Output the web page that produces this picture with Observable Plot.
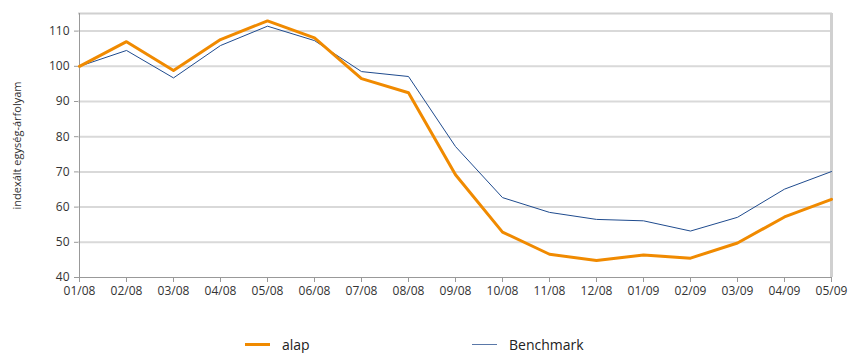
<!DOCTYPE html>
<html><head><meta charset="utf-8">
<script src="https://cdn.jsdelivr.net/npm/d3@7"></script>
<script src="https://cdn.jsdelivr.net/npm/@observablehq/plot@0.6"></script>
<style>
body{margin:0;background:#fff;font-family:"Open Sans",sans-serif;}
#legend{position:relative;height:33px;width:848px;font-size:14px;color:#222;}
.it{position:absolute;top:15px;display:flex;align-items:center;}
.sw{display:inline-block;width:25px;margin-right:12px;}
</style></head><body>
<div id="chart"></div>
<div id="legend">
 <div class="it" style="left:245px"><span class="sw" style="border-top:3px solid #f08a00"></span>alap</div>
 <div class="it" style="left:472px"><span class="sw" style="border-top:1.5px solid #5a78a8"></span>Benchmark</div>
</div>
<script>
const months = ["01/08","02/08","03/08","04/08","05/08","06/08","07/08","08/08","09/08","10/08","11/08","12/08","01/09","02/09","03/09","04/09","05/09"];
const alap = [100,107.0,98.8,107.6,112.9,108.1,96.5,92.5,69.2,52.9,46.6,44.8,46.4,45.5,49.8,57.2,62.2];
const benchmark = [100,104.5,96.7,105.9,111.4,107.3,98.5,97.1,77.2,62.7,58.5,56.5,56.1,53.2,57.1,65.1,70.1];
const yTicks = [40,50,60,70,80,90,100,110];

const rowsA = months.map((m,i)=>({m, v:alap[i]}));
const rowsB = months.map((m,i)=>({m, v:benchmark[i]}));

const chart = Plot.plot({
  width:848, height:320,
  marginLeft:78, marginRight:16, marginTop:13, marginBottom:43,
  style:{fontFamily:"Open Sans, sans-serif", fontSize:"12px", color:"#333"},
  x:{type:"point", domain:months, padding:0, label:null},
  y:{domain:[40,115], label:null},
  marks:[
    Plot.ruleY(yTicks.filter(d=>d>40), {stroke:"#d9d9d9", strokeWidth:2}),
    Plot.ruleY([115], {stroke:"#d0d0d0", strokeWidth:2}),
    Plot.ruleX([months[months.length-1]], {stroke:"#d0d0d0", strokeWidth:3}),
    Plot.ruleX([months[0]], {stroke:"#999"}),
    Plot.ruleY([40], {stroke:"#999"}),
    Plot.axisX({ticks:months, tickSize:5, stroke:"#999", tickPadding:4, fontSize:12, fill:"#333"}),
    Plot.axisY({ticks:yTicks, tickSize:4, stroke:"#999", tickPadding:5, fontSize:12, fill:"#333", label:null}),
    Plot.text(["indexált egység-árfolyam"], {frameAnchor:"left", textAnchor:"middle", dx:-61, rotate:-90, fontSize:11, fill:"#333"}),
    Plot.line(rowsB, {x:"m", y:"v", stroke:"#1f4b8e", strokeWidth:1}),
    Plot.line(rowsA, {x:"m", y:"v", stroke:"#f08a00", strokeWidth:3})
  ]
});
document.getElementById("chart").appendChild(chart);
</script>
</body></html>
